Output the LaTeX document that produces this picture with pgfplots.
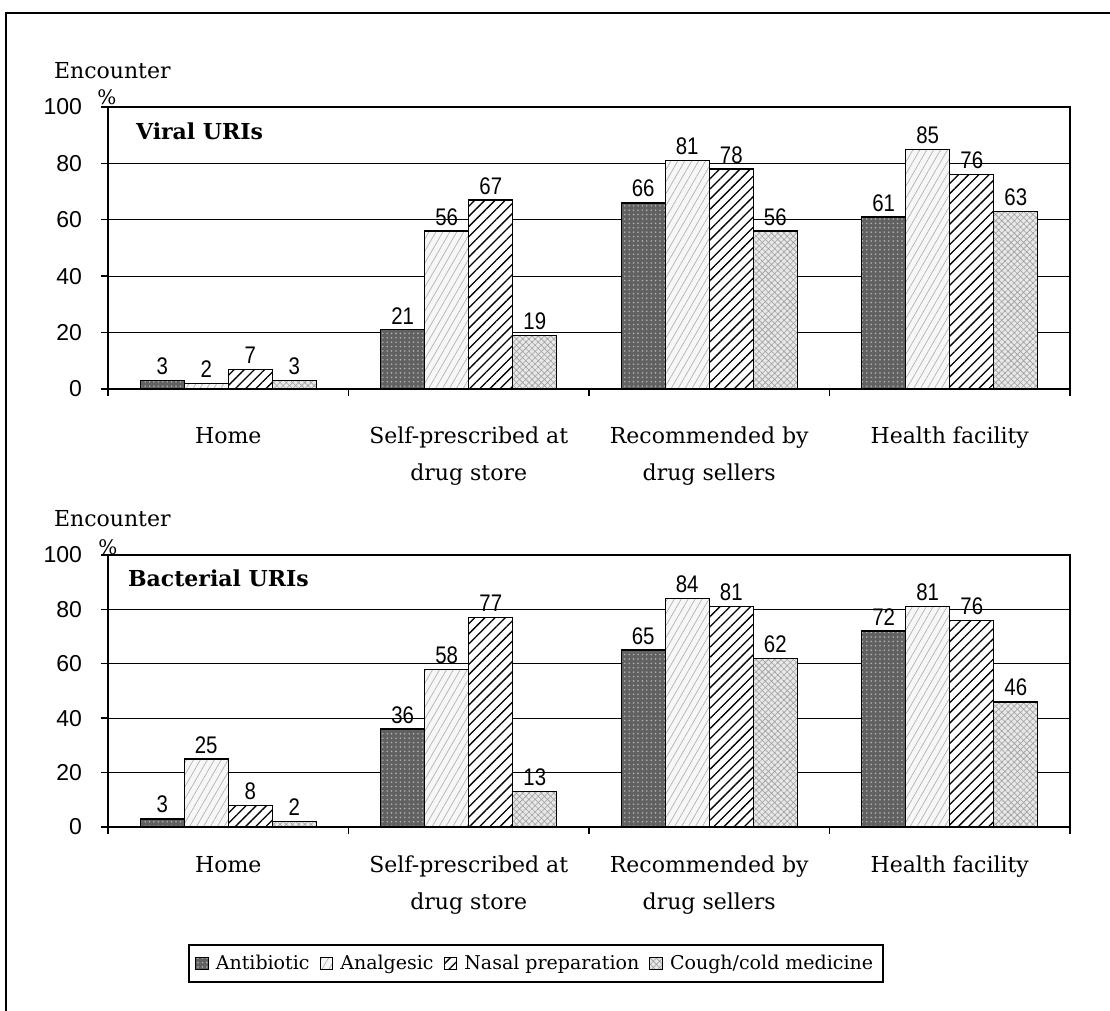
\documentclass[border=0pt]{standalone}
\usepackage{fontspec}
\usepackage{pgfplots}
\pgfplotsset{compat=1.18}
\usetikzlibrary{patterns,patterns.meta}
\setmainfont{DejaVu Serif}
\newfontfamily\ticksans{Liberation Sans}
\newfontfamily\labsans[FakeStretch=0.85]{Liberation Sans}

\pgfplotsset{
  antib/.style={draw=black, line width=0.7pt, fill=black!62, postaction={pattern={Dots[radius=0.45pt,distance=2.2pt]}, pattern color=white!70!black}},
  analg/.style={draw=black, line width=0.7pt, fill=gray!6, postaction={pattern={Lines[angle=60,distance=3pt,line width=0.35pt]}, pattern color=gray!60}},
  nasal/.style={draw=black, line width=0.7pt, fill=white, postaction={pattern={Lines[angle=45,distance=3.6pt,line width=0.65pt]}, pattern color=black}},
  cough/.style={draw=black, line width=0.7pt, fill=gray!18, postaction={pattern={Hatch[angle=45,distance=2.2pt,line width=0.3pt]}, pattern color=gray!75}},
  mybars/.style={
    scale only axis, width=481pt, anchor=south west,
    /pgf/number format/assume math mode=true,
    ybar=0pt, bar width=0.183,
    xmin=-0.5, xmax=3.5, ymin=0, ymax=100,
    xtick={-0.5,0.5,1.5,2.5,3.5}, xticklabels={},
    extra x ticks={0,1,2,3},
    extra x tick labels={Home, Self-prescribed at\\drug store, Recommended by\\drug sellers, Health facility},
    ytick={0,20,...,100},
    ymajorgrids, grid style={black, line width=0.6pt},
    tick align=outside, tick pos=left, major tick length=3.5pt,
    tick style={black, line width=0.7pt},
    yticklabel style={font=\ticksans\fontsize{11.5}{12}\selectfont, xshift=-6pt},
    axis line style={line width=0.7pt},
    nodes near coords,
    nodes near coords style={font=\labsans\fontsize{12}{12}\selectfont, inner sep=2.5pt, black},
    legend image code/.code={\draw[##1, line width=0.5pt] (0pt,-3.2pt) rectangle (6.4pt,3.2pt);},
  }
}

\begin{document}
\begin{tikzpicture}
\useasboundingbox (0,0) rectangle (555pt,505.5pt);
\fill[white] (0,0) rectangle (555pt,505.5pt);

\begin{axis}[mybars, at={(54pt,311pt)}, height=141pt,
  extra x tick style={major tick length=0pt, grid=none,
      xticklabel style={align=center, font=\fontsize{11}{18.5}\selectfont, anchor=north, yshift=-15.5pt}}]
\addplot[antib] coordinates {(0,3) (1,21) (2,66) (3,61)};
\addplot[analg] coordinates {(0,2) (1,56) (2,81) (3,85)};
\addplot[nasal] coordinates {(0,7) (1,67) (2,78) (3,76)};
\addplot[cough] coordinates {(0,3) (1,19) (2,56) (3,63)};
\end{axis}

\begin{axis}[mybars, at={(54pt,92pt)}, height=136pt,
  extra x tick style={major tick length=0pt, grid=none,
      xticklabel style={align=center, font=\fontsize{11}{18.5}\selectfont, anchor=north, yshift=-11pt}},
  legend style={at={(0.445,-0.502)}, anchor=center, legend columns=4,
    draw=black, line width=0.8pt, font=\fontsize{9.5}{12}\selectfont,
    inner sep=3pt,
    /tikz/every even column/.append style={column sep=3pt},
    /tikz/every odd column/.append style={column sep=1.5pt}}]
\addplot[antib] coordinates {(0,3) (1,36) (2,65) (3,72)};
\addplot[analg] coordinates {(0,25) (1,58) (2,84) (3,81)};
\addplot[nasal] coordinates {(0,8) (1,77) (2,81) (3,76)};
\addplot[cough] coordinates {(0,2) (1,13) (2,62) (3,46)};
\legend{Antibiotic, Analgesic, Nasal preparation, Cough/cold medicine}
\end{axis}

\node[anchor=base west, font=\fontsize{11}{13}\selectfont] at (23.5pt,466pt) {Encounter};
\node[anchor=base west, font=\fontsize{11}{13}\selectfont] at (23.5pt,242pt) {Encounter};
\node[font=\fontsize{10}{12}\selectfont] at (53.5pt,457pt) {\%};
\node[font=\fontsize{10}{12}\selectfont] at (54pt,232pt) {\%};
\node[anchor=base west, font=\bfseries\fontsize{11}{13}\selectfont] at (64.5pt,435.5pt) {Viral URIs};
\node[anchor=base west, font=\bfseries\fontsize{11}{13}\selectfont] at (60.5pt,212pt) {Bacterial URIs};

\draw[line width=0.8pt] (3pt,-20pt) -- (3pt,499pt) -- (600pt,499pt);
\end{tikzpicture}
\end{document}
